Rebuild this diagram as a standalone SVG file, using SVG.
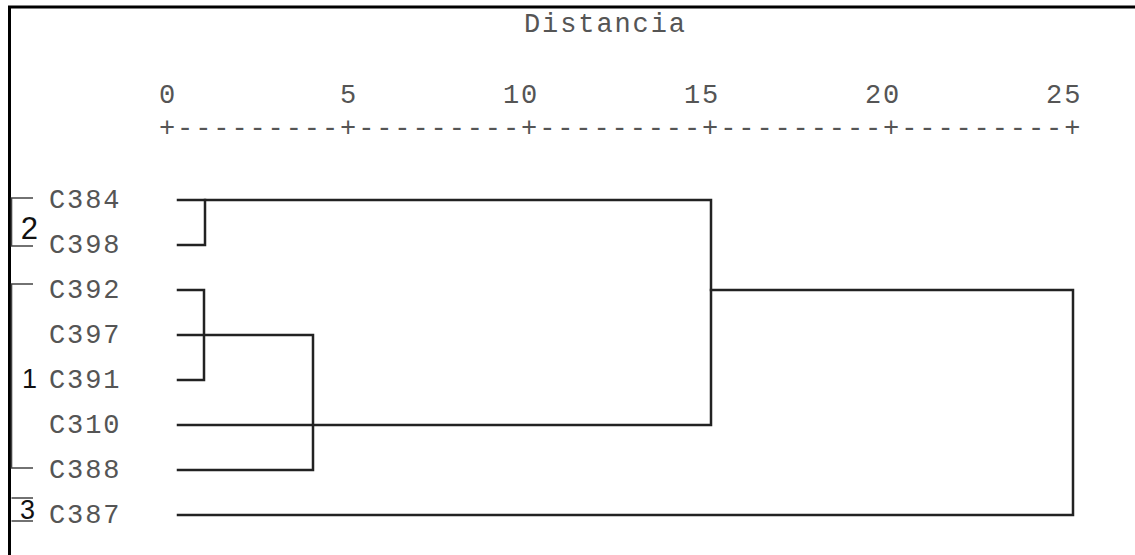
<svg xmlns="http://www.w3.org/2000/svg" width="1135" height="555" viewBox="0 0 1135 555">
  <style>
    .mono { font-family: "Liberation Mono", "Courier New", monospace; font-size: 27px; letter-spacing: 1.9px; fill: #555; }
    .grp { font-family: "Liberation Sans", Arial, sans-serif; fill: #111; text-anchor: end; }
    .link { fill: none; stroke: #222; stroke-width: 2.5; stroke-linecap: square; }
    .brk { fill: none; stroke: #444; stroke-width: 1.6; }
  </style>
  <rect width="1135" height="555" fill="#fff"/>

  <!-- frame -->
  <path d="M9.5 555 V7 H1135" fill="none" stroke="#000" stroke-width="3"/>

  <!-- axis -->
  <g id="axis">
    <text class="mono" x="524" y="32">Distancia</text>
    <text class="mono" x="159" y="103" xml:space="preserve">0         5        10        15        20        25</text>
    <text class="mono" x="159" y="136">+---------+---------+---------+---------+---------+</text>
  </g>

  <!-- leaf labels -->
  <g id="leaves">
    <g id="n-C384"><text class="mono" x="49" y="208">C384</text></g>
    <g id="n-C398"><text class="mono" x="49" y="253">C398</text></g>
    <g id="n-C392"><text class="mono" x="49" y="298">C392</text></g>
    <g id="n-C397"><text class="mono" x="49" y="343">C397</text></g>
    <g id="n-C391"><text class="mono" x="49" y="388">C391</text></g>
    <g id="n-C310"><text class="mono" x="49" y="433">C310</text></g>
    <g id="n-C388"><text class="mono" x="49" y="478">C388</text></g>
    <g id="n-C387"><text class="mono" x="49" y="523">C387</text></g>
  </g>

  <!-- group brackets -->
  <g id="group-2">
    <path class="brk" d="M33 198 H11.5 V246 H33"/>
    <text class="grp" x="38" y="239" font-size="31">2</text>
  </g>
  <g id="group-1">
    <path class="brk" d="M33 284 H11.5 V468 H33"/>
    <text class="grp" x="37" y="388" font-size="27">1</text>
  </g>
  <g id="group-3">
    <path class="brk" d="M11.5 498 H33 M11.5 521 H33"/>
    <text class="grp" x="35" y="519" font-size="27">3</text>
  </g>

  <!-- dendrogram links -->
  <g id="connectors">
    <path class="link" d="M178 200 H711 V425 H178"/>
    <path class="link" d="M178 245 H205 V200"/>
    <path class="link" d="M178 290 H204 V380 H178"/>
    <path class="link" d="M178 335 H313 V470 H178"/>
    <path class="link" d="M711 290 H1073 V515 H178"/>
  </g>
</svg>
